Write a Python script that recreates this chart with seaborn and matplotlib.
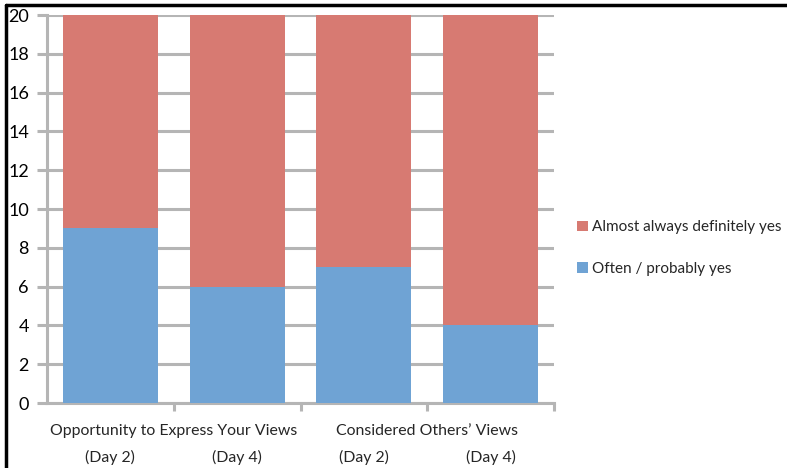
import matplotlib
matplotlib.use("Agg")
import matplotlib.pyplot as plt
from matplotlib.patches import Patch
from matplotlib.lines import Line2D
import seaborn as sns
import pandas as pd

bar_keys = ["OE_D2", "OE_D4", "CO_D2", "CO_D4"]
day_labels = ["(Day 2)", "(Day 4)", "(Day 2)", "(Day 4)"]
group_labels = ["Opportunity to Express Your Views", "Considered Others\u2019 Views"]
often_yes = [9, 6, 7, 4]
almost_always_yes = [11, 14, 13, 16]
series_names = ["Almost always definitely yes", "Often / probably yes"]
y_ticks = [0, 2, 4, 6, 8, 10, 12, 14, 16, 18, 20]

RED = "#D77A72"
BLUE = "#6FA3D4"
GRID = "#B5B5B5"
FS = 11.4

sns.set_theme(style="white")
plt.rcParams["font.family"] = ["Lato", "DejaVu Sans"]

df = pd.DataFrame({
    "bar": bar_keys,
    "often": often_yes,
    "total": [a + b for a, b in zip(often_yes, almost_always_yes)],
})

fig = plt.figure(figsize=(7.87, 4.68), dpi=100)
ax = fig.add_axes([47 / 787, 1 - 403 / 468, (554 - 47) / 787, (403 - 15) / 468])

sns.barplot(data=df, x="bar", y="total", color=RED, saturation=1, width=0.75,
            ax=ax, zorder=3, linewidth=0)
sns.barplot(data=df, x="bar", y="often", color=BLUE, saturation=1, width=0.75,
            ax=ax, zorder=4, linewidth=0)

ax.set_xlim(-0.5, 3.5)
ax.set_ylim(0, 20)
ax.set_yticks(y_ticks)
ax.set_yticklabels([str(t) for t in y_ticks], fontsize=13)
ax.set_xlabel("")
ax.set_ylabel("")
ax.yaxis.grid(True, color=GRID, linewidth=2.2, zorder=0)
ax.set_axisbelow(True)

for s in ["top", "right"]:
    ax.spines[s].set_visible(False)
for s in ["left", "bottom"]:
    ax.spines[s].set_color(GRID)
    ax.spines[s].set_linewidth(2.2)

ax.tick_params(axis="y", which="major", left=True, length=7, width=2.2,
               color=GRID, pad=6, labelcolor="black")
# x ticks at category boundaries
ax.set_xticks([0.5, 1.5, 2.5, 3.5])
ax.set_xticklabels([])
ax.tick_params(axis="x", which="major", bottom=True, length=6, width=2.2,
               color=GRID)

# two-level category labels
trans = ax.get_xaxis_transform()
for i, lab in enumerate(day_labels):
    ax.text(i, -0.14, lab, transform=trans, ha="center", va="center",
            fontsize=FS)
ax.text(0.5, -0.073, group_labels[0], transform=trans, ha="center",
        va="center", fontsize=FS)
ax.text(2.5, -0.073, group_labels[1], transform=trans, ha="center",
        va="center", fontsize=FS)

handles = [Patch(facecolor=RED, edgecolor="none"),
           Patch(facecolor=BLUE, edgecolor="none")]
fig.legend(handles, series_names, loc="center left",
           bbox_to_anchor=(577 / 787, 1 - 248 / 468), frameon=False,
           fontsize=11, handlelength=0.7, handleheight=0.7,
           handletextpad=0.3, labelspacing=1.8, borderaxespad=0,
           borderpad=0)

# figure frame (top and left)
fig.add_artist(Line2D([6 / 787, 1.0], [1 - 5 / 468, 1 - 5 / 468],
                      transform=fig.transFigure, color="black", linewidth=2.5))
fig.add_artist(Line2D([6 / 787, 6 / 787], [0, 1 - 5 / 468],
                      transform=fig.transFigure, color="black", linewidth=2.5))

fig.savefig("out.png", dpi=100)
